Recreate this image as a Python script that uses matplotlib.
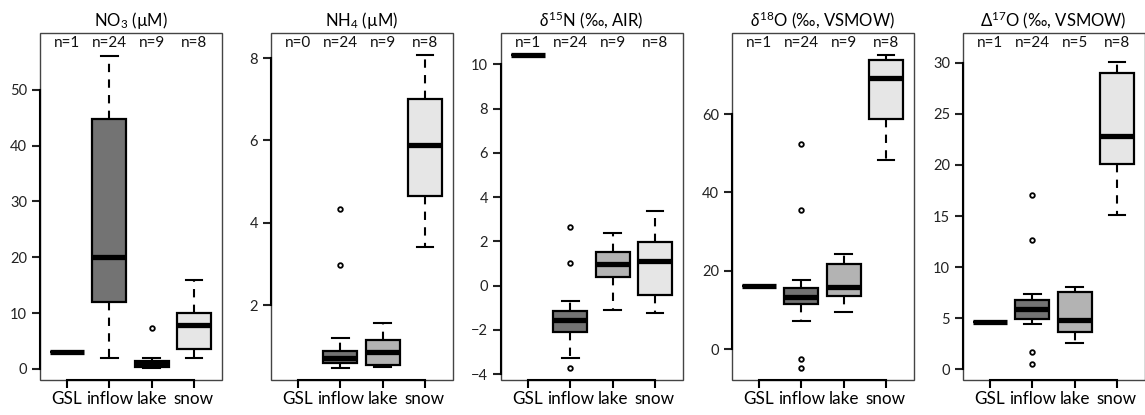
import numpy as np
import matplotlib
matplotlib.use("Agg")
import matplotlib.pyplot as plt
from matplotlib.patches import Rectangle

plt.rcParams['font.family'] = ['Lato', 'DejaVu Sans']
plt.rcParams['mathtext.fontset'] = 'custom'
plt.rcParams['mathtext.rm'] = 'Lato'
plt.rcParams['mathtext.it'] = 'Lato:italic'
plt.rcParams['mathtext.bf'] = 'Lato:bold'
plt.rcParams['mathtext.fallback'] = 'stixsans'

groups = ['GSL', 'inflow', 'lake', 'snow']
fills = ['black', '#737373', '#b3b3b3', '#e6e6e6']
nan = np.nan

# NO3 (uM)
no3_med = [3.1, 20.0, 0.9, 7.9]
no3_q1 = [3.1, 12.0, 0.3, 3.5]
no3_q3 = [3.1, 44.8, 1.4, 10.05]
no3_lo = [3.1, 1.9, 0.15, 2.0]
no3_hi = [3.1, 56.1, 1.9, 15.9]
no3_out = [[], [], [7.4], []]
no3_n = [1, 24, 9, 8]

# NH4 (uM)
nh4_med = [nan, 0.71, 0.85, 5.9]
nh4_q1 = [nan, 0.60, 0.55, 4.64]
nh4_q3 = [nan, 0.89, 1.15, 7.0]
nh4_lo = [nan, 0.48, 0.49, 3.4]
nh4_hi = [nan, 1.19, 1.57, 8.08]
nh4_out = [[], [2.98, 4.34], [], []]
nh4_n = [0, 24, 9, 8]

# d15N
d15n_med = [10.4, -1.56, 0.96, 1.10]
d15n_q1 = [10.4, -2.08, 0.39, -0.40]
d15n_q3 = [10.4, -1.14, 1.50, 1.97]
d15n_lo = [10.4, -3.25, -1.11, -1.23]
d15n_hi = [10.4, -0.69, 2.37, 3.39]
d15n_out = [[], [2.67, 1.02, -3.7], [], []]
d15n_n = [1, 24, 9, 8]

# d18O
d18o_med = [16.2, 13.3, 15.9, 69.3]
d18o_q1 = [16.2, 11.4, 13.6, 58.7]
d18o_q3 = [16.2, 15.7, 21.6, 73.8]
d18o_lo = [16.2, 7.2, 9.5, 48.4]
d18o_hi = [16.2, 17.6, 24.3, 75.0]
d18o_out = [[], [52.4, 35.6, -2.5, -4.8], [], []]
d18o_n = [1, 24, 9, 8]

# D17O
D17o_med = [4.64, 5.88, 4.78, 22.85]
D17o_q1 = [4.64, 4.91, 3.7, 20.1]
D17o_q3 = [4.64, 6.83, 7.54, 28.97]
D17o_lo = [4.64, 4.42, 2.57, 15.05]
D17o_hi = [4.64, 7.34, 8.03, 30.1]
D17o_out = [[], [17.1, 12.68, 1.72, 0.52], [], []]
D17o_n = [1, 24, 5, 8]

panels = [
    ('NO$_3$ (µM)', no3_med, no3_q1, no3_q3, no3_lo, no3_hi, no3_out, no3_n,
     (-2.0, 60.2), [0, 10, 20, 30, 40, 50]),
    ('NH$_4$ (µM)', nh4_med, nh4_q1, nh4_q3, nh4_lo, nh4_hi, nh4_out, nh4_n,
     (0.18, 8.61), [2, 4, 6, 8]),
    (r'$\delta^{15}$N (‰, AIR)', d15n_med, d15n_q1, d15n_q3, d15n_lo, d15n_hi, d15n_out, d15n_n,
     (-4.26, 11.41), [-4, -2, 0, 2, 4, 6, 8, 10]),
    (r'$\delta^{18}$O (‰, VSMOW)', d18o_med, d18o_q1, d18o_q3, d18o_lo, d18o_hi, d18o_out, d18o_n,
     (-7.9, 80.7), [0, 20, 40, 60]),
    (r'$\mathit{\Delta}^{17}$O (‰, VSMOW)', D17o_med, D17o_q1, D17o_q3, D17o_lo, D17o_hi, D17o_out, D17o_n,
     (-1.04, 32.9), [0, 5, 10, 15, 20, 25, 30]),
]

W, H = 1145, 415
fig = plt.figure(figsize=(W / 100, H / 100), dpi=100)
lefts = [39.5, 270.5, 500.5, 731.5, 962.5]
ax_w = 182
ax_top, ax_bot = 33, 380

for left, (title, med, q1, q3, lo, hi, out, ns, ylim, yt) in zip(lefts, panels):
    ax = fig.add_axes([left / W, (H - ax_bot) / H, ax_w / W, (ax_bot - ax_top) / H])
    for i in range(4):
        if np.isnan(med[i]):
            continue
        st = dict(med=med[i], q1=q1[i], q3=q3[i], whislo=lo[i], whishi=hi[i],
                  fliers=out[i])
        ax.bxp([st], positions=[i + 1], widths=0.8, capwidths=0.4,
               patch_artist=True, manage_ticks=False,
               boxprops=dict(facecolor=fills[i], edgecolor='black', linewidth=1.6),
               medianprops=dict(color='black', linewidth=3.8, solid_capstyle='butt'),
               whiskerprops=dict(color='black', linewidth=1.5, linestyle=(0, (4, 3.5))),
               capprops=dict(color='black', linewidth=1.5),
               flierprops=dict(marker='o', markersize=3.3, markerfacecolor='white',
                               markeredgecolor='black', markeredgewidth=1.3))
    for i in range(4):
        ax.text(i + 1, 0.97, f'n={ns[i]}', transform=ax.get_xaxis_transform(),
                ha='center', va='center', fontsize=11, color='#111111')
    ax.set_xlim(0.35, 4.65)
    ax.set_ylim(*ylim)
    ax.set_xticks([1, 2, 3, 4])
    ax.set_xticklabels(groups)
    ax.set_yticks(yt)
    ax.tick_params(axis='x', length=6, width=1.5, pad=2, labelsize=12.3, colors='black')
    ax.tick_params(axis='y', length=6, width=1.5, pad=3, labelsize=10.5, colors='#222222')
    for s in ['top', 'right']:
        ax.spines[s].set_visible(False)
    ax.spines['left'].set_bounds(yt[0], yt[-1])
    ax.spines['bottom'].set_bounds(1, 4)
    ax.spines['left'].set_linewidth(1.5)
    ax.spines['bottom'].set_linewidth(1.5)
    ax.add_patch(Rectangle((0, 0), 1, 1, transform=ax.transAxes, fill=False,
                           lw=1.0, ec='#444444', clip_on=False, zorder=0.5))
    ax.set_title(title, fontsize=12, pad=5)

fig.savefig('out.png', dpi=100)
